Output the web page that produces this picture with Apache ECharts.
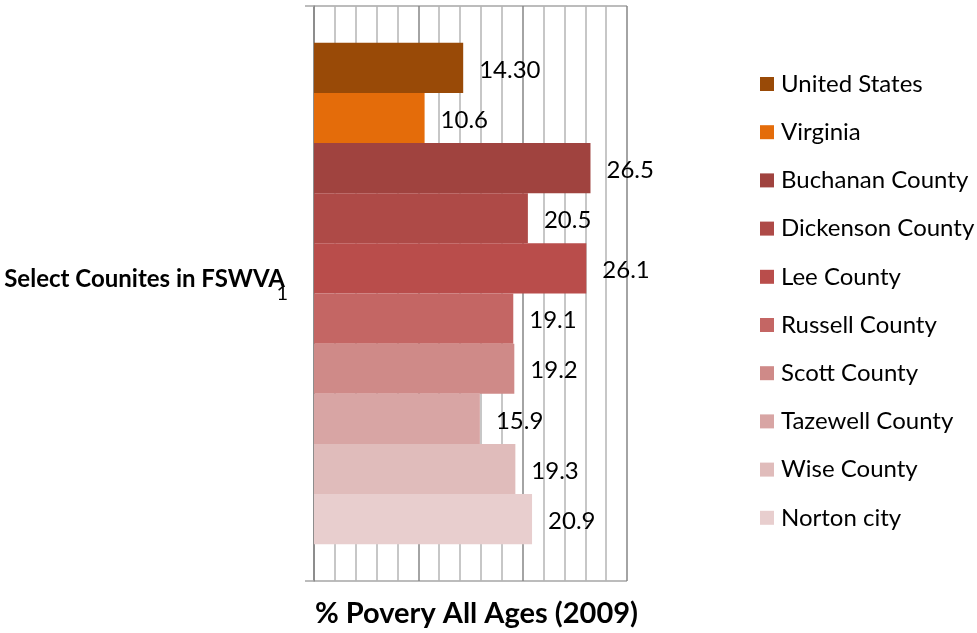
<!DOCTYPE html>
<html><head><meta charset="utf-8">
<script src="https://cdn.jsdelivr.net/npm/echarts@6/dist/echarts.min.js"></script>
<style>html,body{margin:0;padding:0;background:#fff}#c{width:977px;height:633px}</style>
</head><body><div id="c"></div>
<script>
const categories = ['1'];
const seriesNames = ['United States', 'Virginia', 'Buchanan County', 'Dickenson County', 'Lee County',
  'Russell County', 'Scott County', 'Tazewell County', 'Wise County', 'Norton city'];
const seriesValues = [14.3, 10.6, 26.5, 20.5, 26.1, 19.1, 19.2, 15.9, 19.3, 20.9];
const labelTexts = ['14.30', '10.6', '26.5', '20.5', '26.1', '19.1', '19.2', '15.9', '19.3', '20.9'];
const seriesColors = ['#994A07', '#E46C0A', '#A0433F', '#AE4A47', '#B94D4B',
  '#C46664', '#CF8A88', '#D8A5A4', '#E0BCBB', '#E8CECE'];
const valueAxisTitle = '% Povery All Ages (2009)';
const categoryAxisTitle = 'Select Counites in FSWVA';

const FONT = 'Lato';
const chart = echarts.init(document.getElementById('c'), null, {renderer: 'canvas'});

const series = seriesNames.map((name, i) => ({
  name: name,
  type: 'bar',
  data: [seriesValues[i]],
  barGap: 0,
  barCategoryGap: '12.8%',
  itemStyle: {color: seriesColors[i]},
  label: {
    show: true,
    position: 'right',
    distance: 16,
    offset: [0, 2],
    color: '#000',
    fontFamily: FONT,
    fontSize: 24,
    formatter: () => labelTexts[i]
  }
}));

chart.setOption({
  animation: false,
  backgroundColor: '#fff',
  textStyle: {fontFamily: FONT},
  grid: {left: 314, right: 350, top: 6, bottom: 50, containLabel: false},
  legend: {
    orient: 'vertical',
    left: 755,
    top: 67,
    itemWidth: 14,
    itemHeight: 14,
    itemGap: 24.2,
    icon: 'rect',
    textStyle: {fontFamily: FONT, fontSize: 24, color: '#000', padding: [0, 0, 0, 2]},
    data: seriesNames
  },
  xAxis: {
    type: 'value',
    min: 0,
    max: 30,
    interval: 2,
    axisLabel: {show: false},
    axisTick: {show: false},
    axisLine: {show: false},
    splitLine: {
      show: true,
      lineStyle: {color: ['#868686', '#b4b4b4', '#b4b4b4', '#b4b4b4', '#b4b4b4'], width: 1.5}
    },
    name: valueAxisTitle,
    nameLocation: 'middle',
    nameGap: 18,
    nameMoveOverlap: false,
    nameTextStyle: {fontFamily: FONT, fontWeight: 'bold', fontSize: 29, color: '#000', padding: [0, 0, 0, 12]}
  },
  yAxis: {
    type: 'category',
    data: categories,
    axisLine: {show: true, lineStyle: {color: '#868686', width: 1.5}},
    axisTick: {show: true, length: 9, lineStyle: {color: '#a6a6a6', width: 1.5}},
    splitLine: {show: true, lineStyle: {color: '#a6a6a6', width: 1.5}},
    axisLabel: {color: '#000', fontFamily: FONT, fontSize: 20, margin: 26, padding: [6, 0, 0, 0]},
    name: categoryAxisTitle,
    nameLocation: 'middle',
    nameRotate: 0,
    nameGap: 29,
    nameMoveOverlap: false,
    nameTextStyle: {fontFamily: FONT, fontWeight: 'bold', fontSize: 24, color: '#000', verticalAlign: 'bottom', padding: [0, 0, 2, 0]}
  },
  series: series
});
</script>
</body></html>
